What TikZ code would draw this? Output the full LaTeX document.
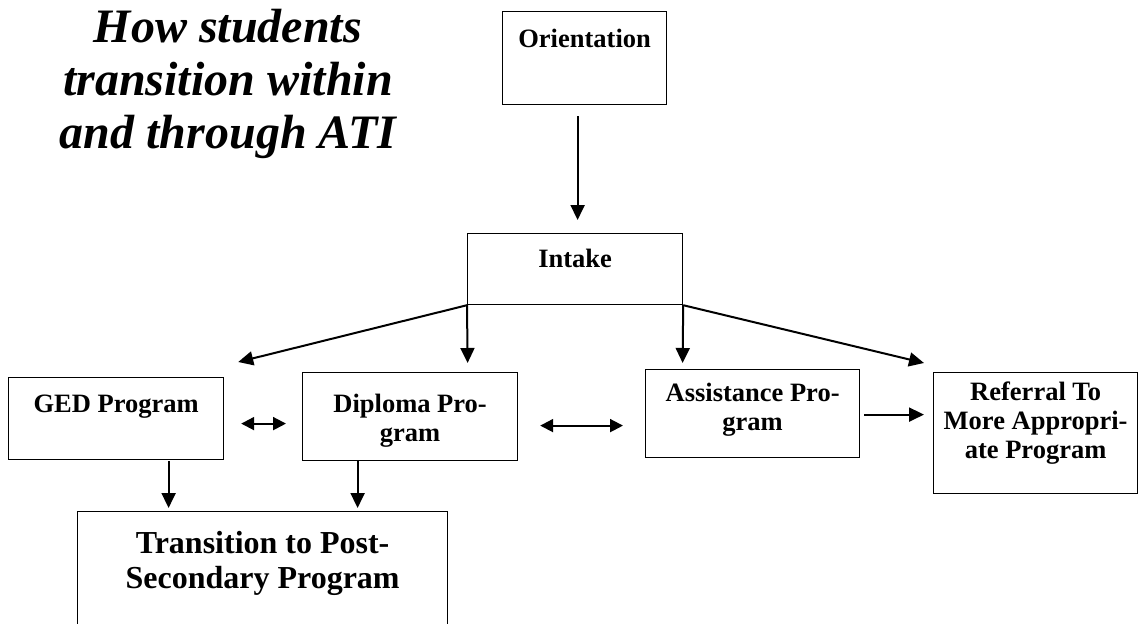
\documentclass[tikz,border=0pt]{standalone}
\usepackage{fontspec}
\setmainfont{Liberation Serif}
\usetikzlibrary{arrows.meta,calc}
\begin{document}
\begin{tikzpicture}[x=1pt,y=-1pt,
  box/.style={draw, line width=1.2pt, inner sep=0pt, anchor=north west},
  lbl/.style={font=\bfseries\fontsize{26.5}{29}\selectfont, align=center, inner sep=0pt, anchor=base},
  biglbl/.style={font=\bfseries\fontsize{32}{35}\selectfont, align=center, inner sep=0pt, anchor=base},
  titlestyle/.style={font=\bfseries\itshape\fontsize{48}{53}\selectfont, align=center, inner sep=0pt, anchor=base},
  arr/.style={line width=2pt, -{Triangle[length=15pt,width=14pt]}},
  darr/.style={line width=2pt, {Triangle[length=13pt,width=13pt]}-{Triangle[length=13pt,width=13pt]}}]
\useasboundingbox (0,0) rectangle (1139,623);
\clip (0,0) rectangle (1139,623);

\node[titlestyle] (title) at (228,148) {How students\\transition within\\and through ATI};

\node[box, minimum width=164pt, minimum height=93pt,
  label={[lbl, yshift=-37pt]north:Orientation}] (orient) at (502,11) {};
\node[box, minimum width=215pt, minimum height=71pt,
  label={[lbl, yshift=-34pt]north:Intake}] (intake) at (467,233) {};
\node[box, minimum width=215pt, minimum height=82pt,
  label={[lbl, yshift=-35pt]north:GED Program}] (ged) at (8,377) {};
\node[box, minimum width=215pt, minimum height=88pt,
  label={[lbl, yshift=-69pt]north:Diploma Pro-\\gram}] (dip) at (302,372) {};
\node[box, minimum width=214pt, minimum height=88pt,
  label={[lbl, yshift=-61pt]north:Assistance Pro-\\gram}] (assist) at (645,369) {};
\node[box, minimum width=204pt, minimum height=121pt,
  label={[lbl, yshift=-86pt]north:Referral To\\More Appropri-\\ate Program}] (ref) at (933,372) {};
\node[box, minimum width=370pt, minimum height=140pt,
  label={[biglbl, yshift=-77pt]north:Transition to Post-\\Secondary Program}] (trans) at (77,511) {};

\draw[arr] ($(orient.south)+(-7,11)$) -- ($(intake.north)+(2.5,-13)$);
\draw[arr] (intake.south west) -- ($(ged.north east)+(14,-15)$);
\draw[arr] (intake.south west) -- ($(dip.north)+(57.5,-9)$);
\draw[arr] (intake.south east) -- ($(assist.north)+(-70,-6)$);
\draw[arr] (intake.south east) -- ($(ref.north west)+(-9,-9)$);
\draw[darr] ($(ged.east)+(17,5)$) -- ($(dip.west)+(-16,7)$);
\draw[darr] ($(dip.east)+(22,9)$) -- ($(assist.west)+(-22,12)$);
\draw[arr] ($(assist.east)+(4,1)$) -- ($(ref.west)+(-9,-18.5)$);
\draw[arr] ($(ged.south)+(52.5,1)$) -- ($(trans.north)+(-94,-3)$);
\draw[arr] ($(dip.south)+(-52.5,0)$) -- ($(trans.north)+(95,-3)$);
\end{tikzpicture}
\end{document}
